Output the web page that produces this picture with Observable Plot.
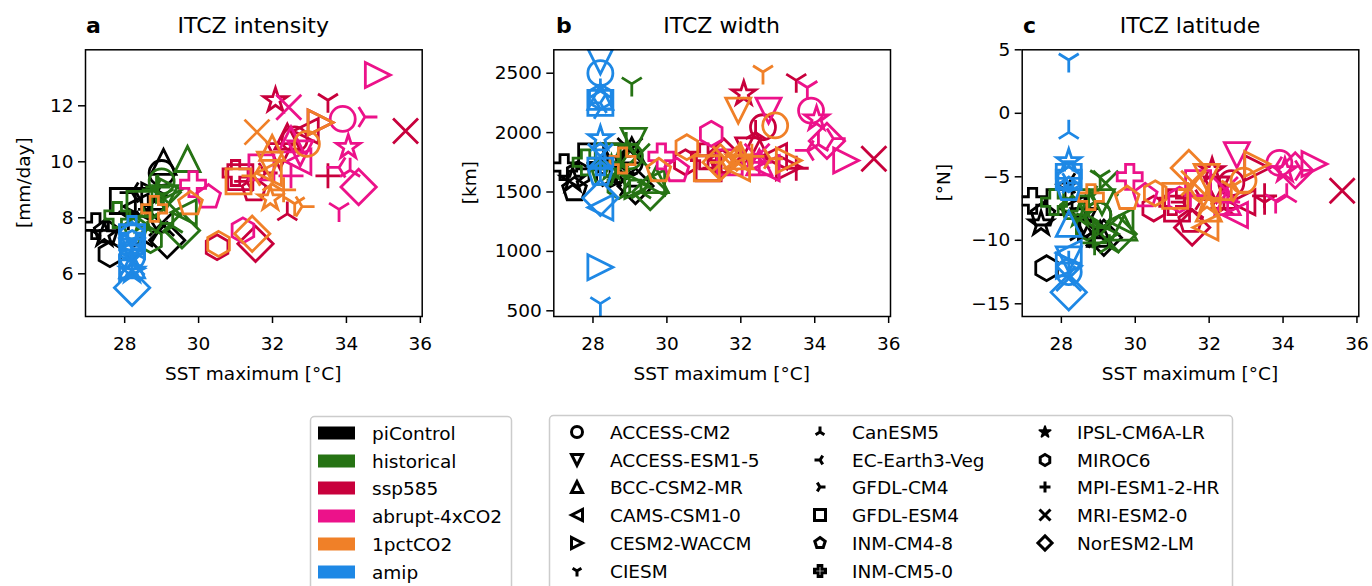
<!DOCTYPE html>
<html><head><meta charset="utf-8">
<script src="https://cdn.jsdelivr.net/npm/d3@7"></script>
<script src="https://cdn.jsdelivr.net/npm/@observablehq/plot@0.6"></script>
<style>
body{margin:0;background:#fff;}
#root{position:relative;width:1372px;height:586px;overflow:hidden;background:#fff;font-family:"DejaVu Sans",sans-serif;}
#root svg{position:absolute;}
#root g[aria-label="x-axis tick"] path,#root g[aria-label="y-axis tick"] path{stroke-width:1.5px;}
</style></head><body><div id="root"></div>
<script>
// ---------------- data ----------------
const models = ["ACCESS-CM2","ACCESS-ESM1-5","BCC-CSM2-MR","CAMS-CSM1-0","CESM2-WACCM","CIESM","CanESM5","EC-Earth3-Veg","GFDL-CM4","GFDL-ESM4","INM-CM4-8","INM-CM5-0","IPSL-CM6A-LR","MIROC6","MPI-ESM1-2-HR","MRI-ESM2-0","NorESM2-LM"];
const markerCodes = ["o","v","^","<",">","1","2","3","4","s","p","P","*","h","+","x","D"];
const experiments = ["piControl","historical","ssp585","abrupt-4xCO2","1pctCO2","amip"];
const expColors = ["#000000","#267314","#c8003c","#ec128a","#f08028","#1e88e5"];

// SST maximum [°C], model order as above
const sstPiControl = [29.0,28.6,29.05,28.3,28.8,28.1,28.5,28.2,28.9,27.95,27.5,27.22,27.45,27.6,28.7,29.0,29.15];
const sstHistorical = [29.0,29.1,29.7,29.6,29.2,29.05,29.3,28.8,29.0,28.4,28.3,27.8,28.5,28.7,28.9,29.2,29.55];
const sstSsp585 = [32.6,32.2,32.4,32.9,33.3,33.5,32.4,31.3,31.8,31.13,31.5,31.0,32.08,30.5,33.5,35.6,31.54];
const sstAbrupt = [33.9,32.75,32.5,32.7,34.85,33.8,34.1,33.8,34.5,31.7,30.27,29.85,34.05,31.2,32.5,32.44,34.33];
const sst1pct = [32.93,31.93,31.99,31.9,33.3,32.6,32.0,31.5,32.8,31.08,29.78,28.8,31.94,30.54,32.3,31.58,31.45];
const sstAmip = [28.2,28.2,28.2,28.2,28.2,28.2,28.2,28.2,28.2,28.2,28.2,28.2,28.2,28.2,28.2,28.2,28.2];

// ITCZ intensity [mm/day]
const intPiControl = [9.6,8.6,10.0,8.4,8.8,8.0,7.2,8.9,7.5,8.6,7.5,7.7,7.4,6.7,8.3,7.8,7.2];
const intHistorical = [9.3,8.7,10.1,8.2,9.0,8.8,7.7,9.0,7.8,8.5,7.6,8.1,7.9,7.2,9.1,8.5,7.55];
const intSsp585 = [10.8,10.2,10.9,11.1,11.4,12.2,8.14,9.3,9.6,9.45,9.0,9.6,12.19,6.95,9.5,11.1,7.07];
const intAbrupt = [11.53,10.3,10.8,10.0,13.1,8.3,9.7,9.8,11.6,9.8,8.74,9.2,10.52,7.55,9.5,11.95,9.1];
const int1pct = [10.64,9.9,10.5,9.6,11.4,8.5,9.2,9.5,8.4,9.3,8.5,8.32,8.68,7.07,9.0,11.06,7.43];
const intAmip = [6.6,6.8,6.3,7.0,6.2,7.2,6.0,6.5,6.9,7.3,7.4,7.6,6.1,7.1,6.7,6.4,5.5];

// ITCZ width [km]
const widPiControl = [1750,1800,1850,1700,1650,1700,1600,1750,1550,1800,1520,1710,1600,1650,1800,1850,1550];
const widHistorical = [1800,1930,1600,1580,1550,2410,1500,1750,1600,1800,1650,1750,1700,1550,1900,1800,1500];
const widSsp585 = [2045,1850,1900,1800,1708,2440,2000,1700,1750,1700,1750,1800,2327,1750,1700,1780,1800];
const widAbrupt = [2185,2185,1750,1700,1765,2380,1900,1850,1950,1750,1680,1800,2116,1990,1750,1800,1930];
const wid1pct = [2060,2185,1800,1700,1765,2510,1820,1750,1780,1700,1680,1765,1780,1877,1800,1780,1750];
const widAmip = [2500,2600,2300,1370,866,560,2350,2250,2200,2250,1650,1750,1950,2300,1700,1800,1450];

// ITCZ latitude [°N]
const latPiControl = [-8.0,-8.5,-9.5,-7.5,-9.0,-6.0,-9.5,-5.5,-9.8,-7.0,-8.0,-6.9,-8.7,-12.2,-7.5,-9.5,-9.8];
const latHistorical = [-8.0,-7.0,-9.0,-8.5,-9.5,-5.0,-10.5,-6.5,-9.0,-7.0,-7.5,-7.0,-8.0,-9.0,-10.2,-5.5,-9.5];
const latSsp585 = [-5.5,-6.0,-6.5,-7.0,-4.3,-7.0,-7.5,-7.0,-6.8,-7.5,-8.5,-7.0,-4.5,-7.5,-6.5,-6.1,-9.0];
const latAbrupt = [-3.9,-3.3,-7.0,-8.0,-4.0,-6.9,-6.5,-4.2,-4.5,-5.5,-6.5,-5.0,-4.5,-6.8,-7.0,-6.0,-4.5];
const lat1pct = [-5.3,-5.0,-7.5,-9.0,-4.0,-5.8,-6.5,-6.0,-6.2,-6.5,-6.7,-6.6,-7.0,-6.3,-6.8,-5.5,-4.3];
const latAmip = [-12.5,-11.5,-8.7,-11.0,-12.0,4.2,-1.5,-12.8,-5.5,-5.0,-6.0,-4.8,-3.8,-5.2,-11.8,-13.0,-14.1];

const xTicks = [28,30,32,34,36];
const intTicks = [6,8,10,12];
const widTicks = [500,1000,1500,2000,2500];
const latTicks = [-15,-10,-5,0,5];

// ---------------- marker shapes (matplotlib-like) ----------------
const rad = s => Math.sqrt(s / Math.PI);
function poly(pts){return {draw(c,s){const R=rad(s);pts.forEach(([x,y],i)=>i?c.lineTo(x*R,y*R):c.moveTo(x*R,y*R));c.closePath();}};}
function segs(list){return {draw(c,s){const R=rad(s);for(const [[a,b],[d,e]] of list){c.moveTo(a*R,b*R);c.lineTo(d*R,e*R);}}};}
function regular(n){const p=[];for(let k=0;k<n;k++){const t=-Math.PI/2+2*Math.PI*k/n;p.push([Math.cos(t),Math.sin(t)]);}return poly(p);}
function starPts(){const p=[];for(let k=0;k<10;k++){const t=-Math.PI/2+Math.PI*k/5;const r=k%2?0.381966:1;p.push([r*Math.cos(t),r*Math.sin(t)]);}return poly(p);}
const q=Math.SQRT2;
const shapeByCode = {
  "o": {draw(c,s){const R=rad(s);c.moveTo(R,0);c.arc(0,0,R,0,2*Math.PI);c.closePath();}},
  "v": poly([[-1,-1],[1,-1],[0,1]]),
  "^": poly([[0,-1],[-1,1],[1,1]]),
  "<": poly([[-1,0],[1,-1],[1,1]]),
  ">": poly([[1,0],[-1,-1],[-1,1]]),
  "1": segs([[[0,0],[0,1]],[[0,0],[0.8,-0.5]],[[0,0],[-0.8,-0.5]]]),
  "2": segs([[[0,0],[0,-1]],[[0,0],[0.8,0.5]],[[0,0],[-0.8,0.5]]]),
  "3": segs([[[0,0],[-1,0]],[[0,0],[0.5,0.8]],[[0,0],[0.5,-0.8]]]),
  "4": segs([[[0,0],[1,0]],[[0,0],[-0.5,-0.8]],[[0,0],[-0.5,0.8]]]),
  "s": poly([[-1,-1],[1,-1],[1,1],[-1,1]]),
  "p": regular(5),
  "P": poly([[-1,-3],[1,-3],[1,-1],[3,-1],[3,1],[1,1],[1,3],[-1,3],[-1,1],[-3,1],[-3,-1],[-1,-1]].map(([a,b])=>[a/3,b/3])),
  "*": starPts(),
  "h": regular(6),
  "+": segs([[[-1,0],[1,0]],[[0,-1],[0,1]]]),
  "x": segs([[[-1,-1],[1,1]],[[-1,1],[1,-1]]]),
  "D": poly([[0,-q],[q,0],[0,q],[-q,0]])
};
const symbolRange = markerCodes.map(c => shapeByCode[c]);

// ---------------- table ----------------
const sstAll = [sstPiControl,sstHistorical,sstSsp585,sstAbrupt,sst1pct,sstAmip];
const intAll = [intPiControl,intHistorical,intSsp585,intAbrupt,int1pct,intAmip];
const widAll = [widPiControl,widHistorical,widSsp585,widAbrupt,wid1pct,widAmip];
const latAll = [latPiControl,latHistorical,latSsp585,latAbrupt,lat1pct,latAmip];
const rows = [];
experiments.forEach((e,i)=>models.forEach((m,j)=>rows.push({exp:e, model:m, sst:sstAll[i][j], intensity:intAll[i][j], width:widAll[i][j], lat:latAll[i][j]})));

const fmt = d => d < 0 ? "\u2212" + Math.abs(d) : String(d);
const root = document.getElementById("root");

function panel(left, width, mLeft, mRight, yField, yDomain, yTicks){
  const svg = Plot.plot({
    width, height: 390,
    marginLeft: mLeft, marginRight: mRight, marginTop: 49.3, marginBottom: 74,
    style: {fontFamily: "DejaVu Sans, sans-serif", fontSize: "18.5px", overflow: "visible", background: "transparent", color: "black"},
    x: {domain: [26.94, 36.05], ticks: xTicks, tickSize: 7, tickPadding: 13, tickFormat: fmt, label: null},
    y: {domain: yDomain, ticks: yTicks, tickSize: 7, tickPadding: 5, tickFormat: fmt, label: null},
    color: {domain: experiments, range: expColors},
    symbol: {domain: models, range: symbolRange},
    marks: [
      Plot.dot(rows, {x: "sst", y: yField, symbol: "model", stroke: "exp", fill: "none", r: 12.5, strokeWidth: 2.8, strokeLinejoin: "miter", clip: true}),
      Plot.frame({stroke: "black", strokeWidth: 1.5})
    ]
  });
  svg.style.left = left + "px";
  svg.style.top = "0px";
  root.appendChild(svg);
}
panel(0, 460, 85, 38.3, "intensity", [4.475, 14.0], intTicks);
panel(460, 460, 93.3, 30, "width", [452, 2697], widTicks);
panel(920, 452, 101.7, 13.7, "lat", [-16, 5], latTicks);

// ---------------- text + legends overlay ----------------
const ov = d3.select(root).append("svg").attr("width",1372).attr("height",586)
  .style("left","0px").style("top","0px")
  .attr("font-family","DejaVu Sans, sans-serif").attr("fill","black");

const panelText = [
  {letter:"a", lx:86, title:"ITCZ intensity", cx:253.3, ylab:"[mm/day]", yx:29.5},
  {letter:"b", lx:556, title:"ITCZ width", cx:721.7, ylab:"[km]", yx:476},
  {letter:"c", lx:1023, title:"ITCZ latitude", cx:1190, ylab:"[\u00b0N]", yx:949.5}
];
for (const p of panelText){
  ov.append("text").attr("x",p.lx).attr("y",33).attr("font-size",22).attr("font-weight","bold").text(p.letter);
  ov.append("text").attr("x",p.cx).attr("y",33).attr("font-size",22).attr("text-anchor","middle").text(p.title);
  ov.append("text").attr("x",p.cx).attr("y",380).attr("font-size",18.5).attr("text-anchor","middle").text("SST maximum [\u00b0C]");
  ov.append("text").attr("transform",`translate(${p.yx},182.6) rotate(-90)`).attr("font-size",18.5).attr("text-anchor","middle").text(p.ylab);
}

// experiment legend
ov.append("rect").attr("x",310.5).attr("y",416.5).attr("width",201).attr("height",200).attr("rx",4)
  .attr("fill","white").attr("stroke","#cccccc").attr("stroke-width",1.5);
const expRowY = [433,461,488,516,544,572];
experiments.forEach((e,i)=>{
  ov.append("rect").attr("x",318).attr("y",expRowY[i]-6.5).attr("width",37).attr("height",13).attr("fill",expColors[i]);
  ov.append("text").attr("x",372).attr("y",expRowY[i]+6.7).attr("font-size",18.5).text(e);
});

// model legend
ov.append("rect").attr("x",549.5).attr("y",415.5).attr("width",683).attr("height",200).attr("rx",4)
  .attr("fill","white").attr("stroke","#cccccc").attr("stroke-width",1.5);
const modRowY = [432,460,487,515,543,571];
const colMarkX = [577,820,1045], colTextX = [610,852,1077];
models.forEach((m,j)=>{
  const col = Math.floor(j/6), row = j%6;
  const r = markerCodes[j] === "*" ? 5.8 : markerCodes[j] === "D" ? 5 : 5.5;
  const path = d3.path();
  shapeByCode[markerCodes[j]].draw(path, r*r*Math.PI);
  ov.append("path").attr("d",path.toString()).attr("transform",`translate(${colMarkX[col]},${modRowY[row]})`)
    .attr("fill", markerCodes[j] === "*" ? "black" : "none").attr("stroke","black")
    .attr("stroke-width", markerCodes[j] === "*" ? 2 : 3).attr("stroke-linejoin", markerCodes[j] === "*" ? "round" : "miter");
  ov.append("text").attr("x",colTextX[col]).attr("y",modRowY[row]+6.7).attr("font-size",18.5).text(m);
});
</script></body></html>
